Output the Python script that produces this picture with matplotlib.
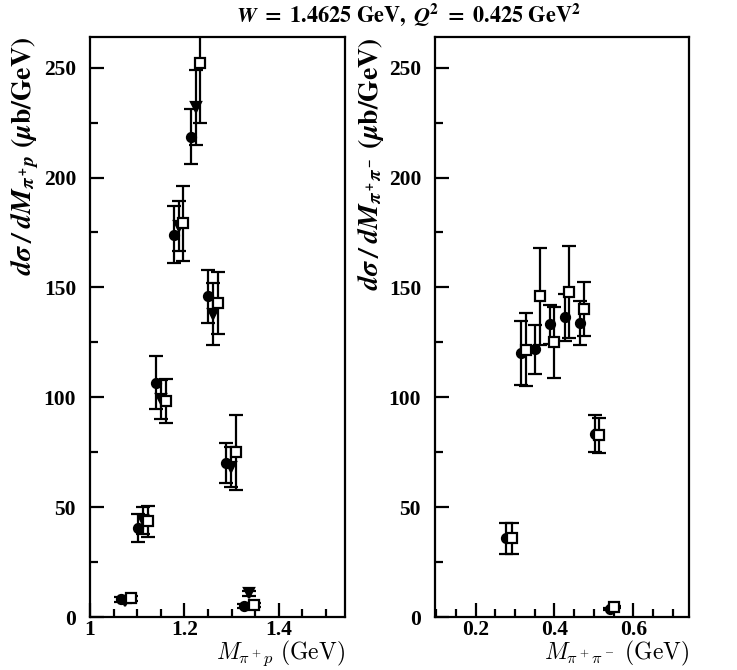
import numpy as np
import matplotlib
matplotlib.use("Agg")
import matplotlib.pyplot as plt
from matplotlib.ticker import MultipleLocator

# left panel: M(pi+ p)
m_pp_circ = [1.065, 1.1025, 1.139, 1.178, 1.2135, 1.251, 1.289, 1.3266]
y_pp_circ = [8.0, 40.6, 106.7, 174.0, 218.5, 146.0, 70.2, 5.0]
e_pp_circ = [1.0, 6.5, 12.0, 13.0, 12.5, 12.0, 9.0, 1.0]

m_pp_tri = [1.075, 1.1125, 1.150, 1.188, 1.224, 1.2615, 1.2997, 1.337]
y_pp_tri = [7.5, 44.0, 99.0, 178.0, 232.0, 138.0, 68.3, 10.8]
e_pp_tri = [1.0, 6.0, 9.0, 11.5, 17.0, 14.0, 9.0, 1.0]

m_pp_sq = [1.086, 1.1237, 1.1605, 1.198, 1.233, 1.272, 1.310, 1.348]
y_pp_sq = [8.5, 43.6, 98.3, 179.2, 252.0, 143.0, 74.9, 5.5]
e_pp_sq = [1.0, 7.0, 10.0, 17.0, 27.0, 14.0, 17.0, 1.0]

# right panel: M(pi+ pi-)
m_pipi_circ = [0.277, 0.315, 0.351, 0.3886, 0.4267, 0.4647, 0.5028, 0.541]
y_pipi_circ = [35.8, 120.3, 121.8, 133.2, 136.5, 133.8, 83.5, 3.5]
e_pipi_circ = [7.0, 14.6, 11.0, 9.0, 10.7, 9.8, 8.5, 0.5]

m_pipi_sq = [0.2914, 0.327, 0.363, 0.3995, 0.4376, 0.4757, 0.514, 0.552]
y_pipi_sq = [35.8, 121.7, 146.0, 125.0, 147.9, 140.3, 82.7, 4.4]
e_pipi_sq = [7.0, 16.5, 22.0, 16.0, 21.0, 12.3, 8.0, 0.5]

fig = plt.figure(figsize=(7.37, 6.70), dpi=100)
ax1 = fig.add_axes([0.1221, 0.079, 0.3459, 0.866])
ax2 = fig.add_axes([0.5902, 0.079, 0.3446, 0.866])

eb = dict(linestyle='', color='black', ecolor='black', elinewidth=1.6,
          capsize=5, capthick=1.6)

def draw(ax, m, y, e, marker, face, size):
    ax.errorbar(m, y, yerr=e, marker=marker, markersize=size,
                markerfacecolor=face, markeredgecolor='black',
                markeredgewidth=1.6, **eb)

draw(ax1, m_pp_circ, y_pp_circ, e_pp_circ, 'o', 'black', 6.5)
draw(ax1, m_pp_tri, y_pp_tri, e_pp_tri, 'v', 'black', 6.5)
draw(ax1, m_pp_sq, y_pp_sq, e_pp_sq, 's', 'white', 7.5)

draw(ax2, m_pipi_circ, y_pipi_circ, e_pipi_circ, 'o', 'black', 6.5)
draw(ax2, m_pipi_sq, y_pipi_sq, e_pipi_sq, 's', 'white', 7.5)

ax1.set_xlim(1.0, 1.54)
ax2.set_xlim(0.097, 0.741)
ax1.set_xticks([1.0, 1.2, 1.4], ['1', '1.2', '1.4'])
ax2.set_xticks([0.2, 0.4, 0.6], ['0.2', '0.4', '0.6'])
for ax in (ax1, ax2):
    ax.set_ylim(0, 264)
    ax.set_yticks([0, 50, 100, 150, 200, 250])
    ax.yaxis.set_minor_locator(MultipleLocator(25))
    ax.xaxis.set_minor_locator(MultipleLocator(0.05))
    ax.tick_params(which='both', direction='in', width=1.6, top=False, right=False)
    ax.tick_params(which='major', length=10)
    ax.tick_params(which='minor', length=6)
    ax.tick_params(axis='y', which='major', pad=10)
    ax.tick_params(axis='x', which='major', pad=2)
    for s in ax.spines.values():
        s.set_linewidth(1.6)
    for lab in ax.get_xticklabels() + ax.get_yticklabels():
        lab.set_fontfamily('Liberation Serif')
        lab.set_fontweight('bold')
        lab.set_fontsize(15.5)

ax1.set_xlabel(r'$M_{\pi^+p}\ (\mathrm{GeV})$', fontsize=17,
               math_fontfamily='cm', ha='right', va='bottom')
ax2.set_xlabel(r'$M_{\pi^+\pi^-}\ (\mathrm{GeV})$', fontsize=17,
               math_fontfamily='cm', ha='right', va='bottom')
for ax in (ax1, ax2):
    ax.xaxis.set_label_coords(1.0, -0.088)

ax1.set_ylabel(r'$\mathbfit{d\sigma\;/\;dM}_{\mathbfit{\pi^+p}}\ \mathbf{(}\mathbfit{\mu}\mathbf{b/GeV)}$',
               loc='top', fontsize=20, math_fontfamily='stix', labelpad=2)
ax2.set_ylabel(r'$\mathbfit{d\sigma\;/\;dM}_{\mathbfit{\pi^+\pi^-}}\ \mathbf{(}\mathbfit{\mu}\mathbf{b/GeV)}$',
               loc='top', fontsize=20, math_fontfamily='stix', labelpad=2)

fig.text(0.554, 0.978,
         r'$\mathbfit{W}\ \mathbf{=\ 1.4625\ GeV,}\ \mathbfit{Q}^{\mathbf{2}}\ \mathbf{=\ 0.425\ GeV}^{\mathbf{2}}$',
         ha='center', va='center', fontsize=16, math_fontfamily='stix')

fig.savefig('out.png', dpi=100)
